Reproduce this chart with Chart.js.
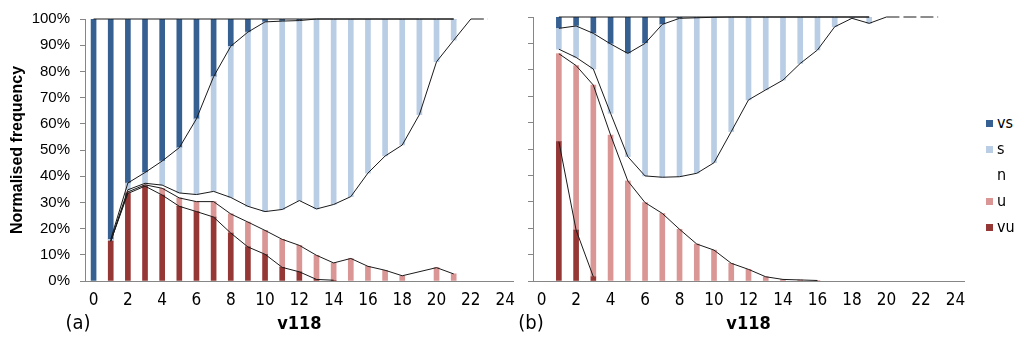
<!DOCTYPE html>
<html lang="en">
<head>
    <meta charset="UTF-8">
    <title>v118 normalised frequency</title>
    <script src="https://cdn.jsdelivr.net/npm/chart.js"></script>
    <style>
        body { margin: 0; background: #fff; }
        #wrap { position: relative; width: 1023px; height: 338px; font-family: 'Liberation Sans Narrow', 'DejaVu Sans Condensed', 'Liberation Sans', sans-serif; color: #000; }
        .panel { position: absolute; top: 0; }
        .tag { position: absolute; font-size: 20px; transform: translate(-50%, -50%); }
        .key { position: absolute; left: 986px; font-size: 16px; height: 20px; line-height: 20px; transform: translateY(-50%); }
        .key span { display: inline-block; width: 7px; height: 7px; margin-right: 4px; vertical-align: middle; }
    </style>
</head>
<body>
<div id="wrap">
    <canvas id="chartA" class="panel" style="left:0" width="524" height="338"></canvas>
    <canvas id="chartB" class="panel" style="left:520px" width="460" height="338"></canvas>
    <div class="tag" style="left:78px; top:322px">(a)</div>
    <div class="tag" style="left:531px; top:322px">(b)</div>
    <div id="legend"></div>
</div>

<script>
    const categories = ['0','1','2','3','4','5','6','7','8','9','10','11','12','13','14','15','16','17','18','19','20','21','22','23','24'];
    const seriesNames = ['vu', 'u', 'n', 's', 'vs'];

    // panel (a), percent per category
    const vuA = [null, 15.2, 33.4, 36.2, 32.8, 28.5, 26.5, 24.4, 18.3, 13.0, 10.2, 5.2, 3.5, 0.6, 0.3, null, null, null, null, null, null, null, null, null, null];
    const uA  = [null, 0, 0.6, 0.5, 2.6, 3.2, 3.8, 5.9, 7.3, 9.5, 9.1, 10.7, 10.1, 9.2, 6.6, 8.6, 5.6, 4.1, 2.0, null, 5.1, 2.7, null, null, null];
    const nA  = [null, 0, 0.8, 0.6, 1.2, 1.9, 2.7, 3.9, 6.3, 6.0, 7.2, 11.4, 17.1, 17.7, 22.3, 23.6, 35.6, 43.6, 49.9, 63.5, 78.6, 89.2, 100, null, null];
    const sA  = [null, 0.7, 2.6, 4.1, 9.2, 17.3, 28.9, 43.8, 57.7, 66.5, 72.4, 71.9, 68.7, 72.5, 70.8, 67.8, 58.8, 52.3, 48.1, 36.5, 16.3, 8.1, null, null, null];
    const vsA = [100, 84.1, 62.6, 58.6, 54.2, 49.1, 38.1, 22.0, 10.4, 5.0, 1.1, 0.8, 0.6, 0, 0, 0, 0, 0, 0, 0, 0, 0, null, null, null];
    const dashA = [22, 23];

    // panel (b)
    const vuB = [null, 52.8, 19.3, 1.6, null, null, null, null, null, null, null, null, null, null, null, null, null, null, null, null, null, null, null, null, null];
    const uB  = [null, 33.3, 62.3, 72.6, 55.3, 37.9, 29.7, 25.6, 19.6, 14.0, 11.7, 6.7, 4.4, 1.6, 0.6, 0.4, 0.2, null, null, null, null, null, null, null, null];
    const nB  = [null, 1.7, 3.1, 6.1, 8.2, 9.2, 10.1, 13.7, 19.9, 26.8, 33.1, 49.9, 64.2, 70.8, 75.5, 82.0, 87.3, 96.3, 99.5, 97.6, 100, null, null, null, null];
    const sB  = [null, 7.9, 11.9, 13.5, 26.3, 39.1, 50.2, 57.9, 60.0, 58.9, 55.1, 43.4, 31.4, 27.6, 23.9, 17.6, 12.5, 3.7, 0.5, 2.4, null, null, null, null, null];
    const vsB = [null, 4.3, 3.4, 6.2, 10.2, 13.8, 10.0, 2.8, 0.5, 0.3, 0.1, 0, 0, 0, 0, 0, 0, 0, 0, 0, null, null, null, null, null];
    const dashB = [20, 23];

    const colors = ['#953735', '#d99694', 'rgba(0,0,0,0)', '#b9cde5', '#376092'];
    const narrow = "'Liberation Sans Narrow', 'DejaVu Sans Condensed', 'Liberation Sans', sans-serif";
    const sans = "'Liberation Sans', Arial, sans-serif";

    // cumulative top of each band, used for the black outline lines
    function bandTops(series) {
        return series.map((arr, k) => arr.map((v, i) => {
            if (v === null) return null;
            let sum = 0;
            for (let j = 0; j <= k; j++) sum += series[j][i] || 0;
            return sum;
        }));
    }

    function makeChart(canvasId, series, dash, withLabels) {
        const bars = series.map((arr, k) => ({
            type: 'bar',
            label: seriesNames[k],
            data: arr,
            backgroundColor: colors[k],
            stack: 'bars',
            order: 1,
            barThickness: 5
        }));
        const lines = bandTops(series).map((arr, k) => ({
            type: 'line',
            data: arr,
            borderColor: '#1a1a1a',
            borderWidth: 1,
            pointRadius: 0,
            spanGaps: true,
            fill: false,
            clip: 4,
            stack: 'line' + k,
            order: 0
        }));
        lines.push({
            type: 'line',
            data: categories.map((c, i) => (i >= dash[0] && i <= dash[1]) ? 100 : null),
            borderColor: '#1a1a1a',
            borderWidth: 1,
            borderDash: [13, 4],
            pointRadius: 0,
            fill: false,
            clip: 4,
            stack: 'dash',
            order: 0
        });

        return new Chart(document.getElementById(canvasId), {
            data: { labels: categories, datasets: bars.concat(lines) },
            options: {
                responsive: false,
                animation: false,
                layout: { padding: { top: 17, right: withLabels ? 7 : 16, bottom: 0, left: 0 } },
                plugins: { legend: { display: false }, tooltip: { enabled: false } },
                scales: {
                    x: {
                        stacked: true,
                        grid: { drawOnChartArea: false, drawTicks: false },
                        border: { color: '#868686' },
                        ticks: {
                            autoSkip: false, maxRotation: 0, padding: 9, color: '#000',
                            font: { family: narrow, size: 17 },
                            callback: (v, i) => i % 2 === 0 ? categories[i] : ''
                        },
                        title: {
                            display: true, text: 'v118', color: '#000',
                            font: { family: narrow, size: 18, weight: 'bold' },
                            padding: { top: 0, bottom: 3 }
                        },
                        afterFit: s => { s.height = 57; }
                    },
                    y: {
                        stacked: true, min: 0, max: 100,
                        grid: { drawOnChartArea: false, drawTicks: true, tickLength: 5, color: '#868686' },
                        border: { color: '#868686' },
                        ticks: {
                            display: withLabels, stepSize: 10, padding: 10, color: '#000',
                            font: { family: sans, size: 15 },
                            callback: v => v + '%'
                        },
                        title: {
                            display: withLabels, text: 'Normalised frequency', color: '#000',
                            font: { family: sans, size: 16, weight: 'bold' },
                            padding: { top: 8, bottom: 0 }
                        },
                        afterFit: s => { s.width = withLabels ? 85 : 13; }
                    }
                }
            }
        });
    }

    makeChart('chartA', [vuA, uA, nA, sA, vsA], dashA, true);
    makeChart('chartB', [vuB, uB, nB, sB, vsB], dashB, false);

    // legend, top entry first
    const legend = document.getElementById('legend');
    [4, 3, 2, 1, 0].forEach((k, row) => {
        const item = document.createElement('div');
        item.className = 'key';
        item.style.top = (123 + row * 25.9) + 'px';
        item.innerHTML = '<span style="background:' + colors[k] + '"></span>' + seriesNames[k];
        legend.appendChild(item);
    });
</script>
</body>
</html>
